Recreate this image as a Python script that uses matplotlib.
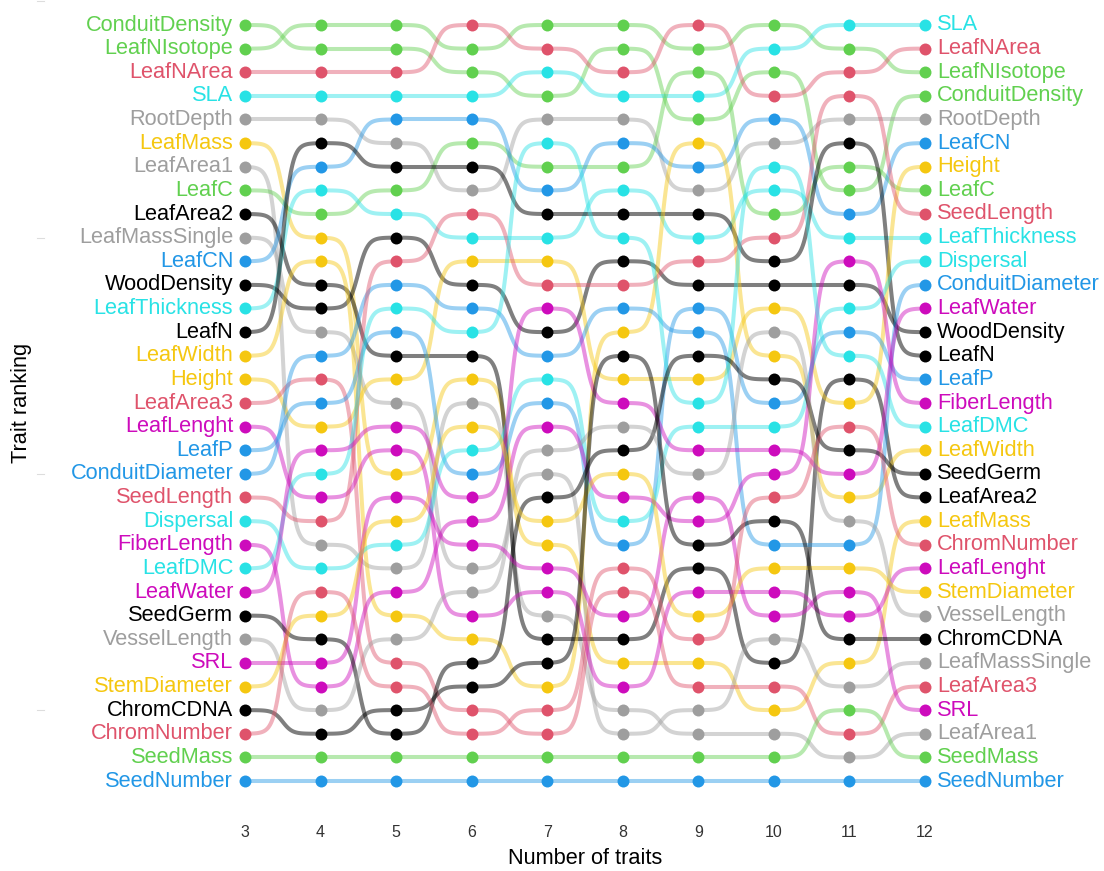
import numpy as np
import matplotlib
matplotlib.use("Agg")
import matplotlib.pyplot as plt
from matplotlib.transforms import blended_transform_factory

plt.rcParams['font.family'] = ['Liberation Sans', 'DejaVu Sans']

# number of traits on the x axis
n_traits = [3, 4, 5, 6, 7, 8, 9, 10, 11, 12]

# trait order (rank 1 first) for each number of traits
rank_3 = ["ConduitDensity", "LeafNIsotope", "LeafNArea", "SLA", "RootDepth", "LeafMass",
          "LeafArea1", "LeafC", "LeafArea2", "LeafMassSingle", "LeafCN", "WoodDensity",
          "LeafThickness", "LeafN", "LeafWidth", "Height", "LeafArea3", "LeafLenght",
          "LeafP", "ConduitDiameter", "SeedLength", "Dispersal", "FiberLength", "LeafDMC",
          "LeafWater", "SeedGerm", "VesselLength", "SRL", "StemDiameter", "ChromCDNA",
          "ChromNumber", "SeedMass", "SeedNumber"]
rank_4 = ["LeafNIsotope", "ConduitDensity", "LeafNArea", "SLA", "RootDepth", "LeafN",
          "LeafCN", "LeafThickness", "LeafC", "LeafMass", "LeafWidth", "LeafArea2",
          "WoodDensity", "LeafMassSingle", "ConduitDiameter", "LeafArea3", "LeafP", "Height",
          "LeafWater", "LeafDMC", "LeafLenght", "SeedLength", "LeafArea1", "Dispersal",
          "ChromNumber", "StemDiameter", "SeedGerm", "SRL", "FiberLength", "VesselLength",
          "ChromCDNA", "SeedMass", "SeedNumber"]
rank_5 = ["LeafNIsotope", "ConduitDensity", "LeafNArea", "SLA", "LeafCN", "RootDepth",
          "LeafN", "LeafC", "LeafThickness", "WoodDensity", "SeedLength", "ConduitDiameter",
          "LeafDMC", "LeafP", "LeafArea2", "Height", "LeafMassSingle", "LeafWater",
          "LeafLenght", "LeafMass", "SRL", "StemDiameter", "Dispersal", "LeafArea1",
          "FiberLength", "LeafWidth", "VesselLength", "LeafArea3", "ChromNumber", "ChromCDNA",
          "SeedGerm", "SeedMass", "SeedNumber"]
rank_6 = ["LeafNArea", "LeafNIsotope", "ConduitDensity", "SLA", "LeafCN", "LeafC",
          "LeafN", "RootDepth", "SeedLength", "LeafThickness", "Height", "WoodDensity",
          "ConduitDiameter", "LeafDMC", "LeafArea2", "LeafMass", "LeafArea1", "StemDiameter",
          "Dispersal", "LeafP", "LeafWater", "FiberLength", "SRL", "LeafMassSingle",
          "VesselLength", "LeafLenght", "LeafWidth", "SeedGerm", "ChromCDNA", "LeafArea3",
          "ChromNumber", "SeedMass", "SeedNumber"]
rank_7 = ["LeafNIsotope", "LeafNArea", "SLA", "ConduitDensity", "RootDepth", "LeafDMC",
          "LeafC", "LeafCN", "LeafN", "LeafThickness", "Height", "SeedLength",
          "LeafWater", "WoodDensity", "ConduitDiameter", "Dispersal", "LeafP", "FiberLength",
          "VesselLength", "LeafMassSingle", "SeedGerm", "StemDiameter", "LeafMass", "SRL",
          "LeafLenght", "LeafArea1", "LeafArea2", "ChromCDNA", "LeafWidth", "ChromNumber",
          "LeafArea3", "SeedMass", "SeedNumber"]
rank_8 = ["LeafNIsotope", "ConduitDensity", "LeafNArea", "SLA", "RootDepth", "LeafCN",
          "LeafC", "LeafThickness", "LeafN", "LeafDMC", "WoodDensity", "SeedLength",
          "ConduitDiameter", "LeafWidth", "ChromCDNA", "Height", "LeafWater", "VesselLength",
          "SeedGerm", "StemDiameter", "FiberLength", "Dispersal", "LeafP", "ChromNumber",
          "LeafArea3", "SRL", "LeafArea2", "LeafMass", "LeafLenght", "LeafArea1",
          "LeafMassSingle", "SeedMass", "SeedNumber"]
rank_9 = ["LeafNArea", "LeafNIsotope", "LeafC", "SLA", "ConduitDensity", "LeafWidth",
          "LeafCN", "RootDepth", "LeafN", "LeafThickness", "SeedLength", "WoodDensity",
          "LeafP", "ConduitDiameter", "SeedGerm", "Height", "LeafDMC", "Dispersal",
          "LeafWater", "VesselLength", "SRL", "FiberLength", "ChromCDNA", "LeafArea2",
          "LeafLenght", "StemDiameter", "ChromNumber", "LeafMass", "LeafArea3",
          "LeafMassSingle", "LeafArea1", "SeedMass", "SeedNumber"]
rank_10 = ["LeafNIsotope", "SLA", "ConduitDensity", "LeafNArea", "LeafCN", "RootDepth",
           "LeafDMC", "LeafThickness", "LeafC", "SeedLength", "LeafN", "WoodDensity",
           "Height", "VesselLength", "LeafWidth", "SeedGerm", "LeafP", "Dispersal",
           "LeafWater", "FiberLength", "ChromNumber", "ChromCDNA", "ConduitDiameter",
           "StemDiameter", "LeafLenght", "SRL", "LeafMassSingle", "LeafArea2", "LeafArea3",
           "LeafMass", "LeafArea1", "SeedMass", "SeedNumber"]
rank_11 = ["SLA", "LeafNIsotope", "LeafNArea", "SeedLength", "RootDepth", "LeafN",
           "LeafC", "ConduitDensity", "LeafCN", "LeafThickness", "FiberLength", "WoodDensity",
           "Dispersal", "LeafP", "LeafDMC", "LeafArea2", "Height", "ChromNumber",
           "SeedGerm", "LeafWater", "LeafWidth", "VesselLength", "ConduitDiameter",
           "StemDiameter", "SRL", "LeafLenght", "ChromCDNA", "LeafMass", "LeafMassSingle",
           "SeedMass", "LeafArea3", "LeafArea1", "SeedNumber"]
rank_12 = ["SLA", "LeafNArea", "LeafNIsotope", "ConduitDensity", "RootDepth", "LeafCN",
           "Height", "LeafC", "SeedLength", "LeafThickness", "Dispersal", "ConduitDiameter",
           "LeafWater", "WoodDensity", "LeafN", "LeafP", "FiberLength", "LeafDMC",
           "LeafWidth", "SeedGerm", "LeafArea2", "LeafMass", "ChromNumber", "LeafLenght",
           "StemDiameter", "VesselLength", "ChromCDNA", "LeafMassSingle", "LeafArea3", "SRL",
           "LeafArea1", "SeedMass", "SeedNumber"]

# colour group of each trait
black_traits = ["LeafArea2", "WoodDensity", "LeafN", "SeedGerm", "ChromCDNA"]
red_traits = ["LeafNArea", "LeafArea3", "SeedLength", "ChromNumber"]
green_traits = ["ConduitDensity", "LeafNIsotope", "LeafC", "SeedMass"]
blue_traits = ["LeafCN", "LeafP", "ConduitDiameter", "SeedNumber"]
cyan_traits = ["SLA", "LeafThickness", "Dispersal", "LeafDMC"]
magenta_traits = ["LeafLenght", "FiberLength", "LeafWater", "SRL"]
yellow_traits = ["LeafMass", "LeafWidth", "Height", "StemDiameter"]
gray_traits = ["RootDepth", "LeafArea1", "LeafMassSingle", "VesselLength"]

palette = {"black": "#000000", "red": "#DF536B", "green": "#61D04F", "blue": "#2297E6",
           "cyan": "#28E2E5", "magenta": "#CD0BBC", "yellow": "#F5C710", "gray": "#9E9E9E"}
groups = {"black": black_traits, "red": red_traits, "green": green_traits,
          "blue": blue_traits, "cyan": cyan_traits, "magenta": magenta_traits,
          "yellow": yellow_traits, "gray": gray_traits}
colour = {t: palette[g] for g, ts in groups.items() for t in ts}

columns = [rank_3, rank_4, rank_5, rank_6, rank_7, rank_8, rank_9, rank_10, rank_11, rank_12]


def sigmoid(x0, x1, y0, y1, smooth=8, n=100):
    t = np.linspace(-smooth, smooth, n)
    s = np.exp(t) / (np.exp(t) + 1)
    return (t + smooth) / (2 * smooth) * (x1 - x0) + x0, s * (y1 - y0) + y0


W, H = 1104, 871
fig = plt.figure(figsize=(W / 100, H / 100), dpi=100)
# pixel frame of the panel
px_x = 680 / 9.0
px_y = 756 / 32.0
x_lo, x_hi = 2.6, 12.4
y_top, y_bot = 0.0, 34.5
left = 245 - (3 - x_lo) * px_x
right = 925 + (x_hi - 12) * px_x
top = 25 - (1 - y_top) * px_y
bottom = 25 + (y_bot - 1) * px_y
ax = fig.add_axes([left / W, 1 - bottom / H, (right - left) / W, (bottom - top) / H])

for trait in rank_3:
    ranks = [col.index(trait) + 1 for col in columns]
    c = colour[trait]
    alpha = 0.5 if c == "#000000" else 0.45
    for i in range(len(n_traits) - 1):
        xs, ys = sigmoid(n_traits[i], n_traits[i + 1], ranks[i], ranks[i + 1])
        ax.plot(xs, ys, color=c, lw=2.9, alpha=alpha, solid_capstyle='butt', zorder=1)

for trait in rank_3:
    ranks = [col.index(trait) + 1 for col in columns]
    ax.plot(n_traits, ranks, 'o', color=colour[trait], ms=8.6, mec='none', zorder=3)

for i, trait in enumerate(rank_3):
    ax.annotate(trait, (n_traits[0], i + 1), xytext=(-8.5, 0), textcoords='offset points',
                ha='right', va='center', fontsize=15.7, color=colour[trait])
for i, trait in enumerate(rank_12):
    ax.annotate(trait, (n_traits[-1], i + 1), xytext=(8.5, 0), textcoords='offset points',
                ha='left', va='center', fontsize=15.7, color=colour[trait])

ax.set_xlim(x_lo, x_hi)
ax.set_ylim(y_bot, y_top)
ax.set_xticks(n_traits)
ax.set_xticklabels([str(n) for n in n_traits], fontsize=11.5, color='#333333')
ax.tick_params(axis='x', length=0, pad=6)
ax.set_yticks([])
for s in ax.spines.values():
    s.set_visible(False)

# faint y ticks far left
trans = blended_transform_factory(fig.transFigure, ax.transData)
for r in [0, 10, 20, 30]:
    ax.plot([37 / W, 44 / W], [r, r], color='#DDDDDD', lw=0.8, transform=trans, clip_on=False)

fig.text(22 / W, 1 - 403 / H, "Trait ranking", rotation=90, ha='center', va='center',
         fontsize=15.7)
fig.text(585 / W, 1 - 858 / H, "Number of traits", ha='center', va='center', fontsize=15.7)

fig.savefig("out.png", dpi=100)
